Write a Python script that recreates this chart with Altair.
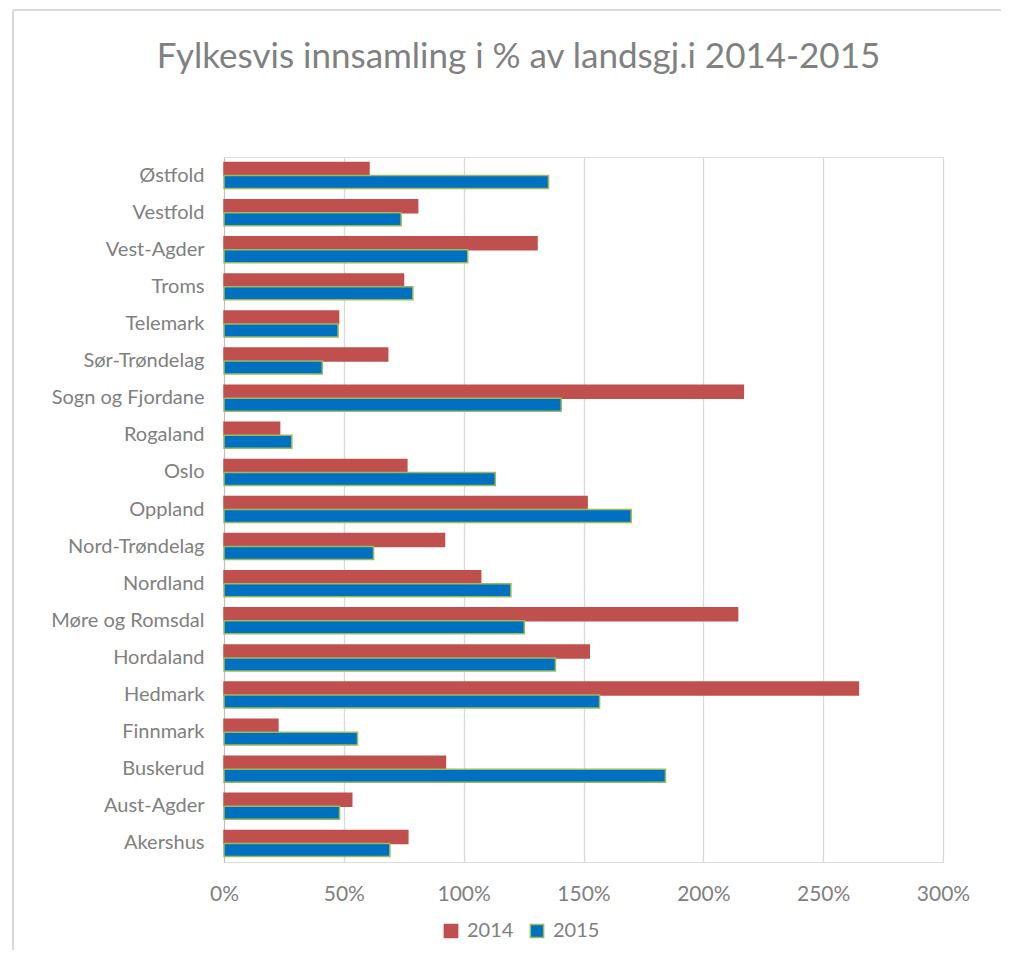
import altair as alt
import pandas as pd

counties = ["Østfold", "Vestfold", "Vest-Agder", "Troms", "Telemark", "Sør-Trøndelag",
            "Sogn og Fjordane", "Rogaland", "Oslo", "Oppland", "Nord-Trøndelag", "Nordland",
            "Møre og Romsdal", "Hordaland", "Hedmark", "Finnmark", "Buskerud", "Aust-Agder",
            "Akershus"]
v2014 = [60.5, 80.8, 130.6, 74.9, 47.8, 68.3, 216.7, 23.2, 76.3, 151.5, 92.0, 107.1,
         214.3, 152.4, 264.7, 22.5, 92.4, 53.3, 76.7]
v2015 = [135.4, 73.9, 101.7, 78.8, 47.6, 41.0, 140.7, 28.3, 113.2, 169.9, 62.4, 119.7,
         125.3, 138.3, 156.7, 55.7, 184.2, 48.2, 69.2]
years = ["2014", "2015"]
x_ticks = [0, 50, 100, 150, 200, 250, 300]

rows = []
for c, a, b in zip(counties, v2014, v2015):
    rows.append({"fylke": c, "year": "2014", "value": a})
    rows.append({"fylke": c, "year": "2015", "value": b})
df = pd.DataFrame(rows)

FONT = "Lato"
GRAY = "#808080"

legend_kw = dict(title=None, orient="none", direction="horizontal",
                 legendX=217, legendY=764,
                 symbolType="square", symbolSize=175,
                 labelFontSize=20, labelColor=GRAY, labelFont=FONT,
                 labelOffset=6, columnPadding=13, symbolStrokeWidth=1.5)

bars = alt.Chart(df).mark_bar(strokeWidth=1.5).encode(
    x=alt.X("value:Q",
            scale=alt.Scale(domain=[0, 300], nice=False),
            axis=alt.Axis(values=x_ticks, labelExpr="datum.value + '%'", title=None,
                          grid=True, gridColor="#D9D9D9", gridWidth=1.3,
                          ticks=False, domain=False, labelPadding=21, labelFlush=False,
                          labelFontSize=21, labelColor=GRAY, labelFont=FONT)),
    y=alt.Y("fylke:N", sort=counties,
            scale=alt.Scale(paddingInner=0.3, paddingOuter=0.15),
            axis=alt.Axis(title=None, ticks=False, domain=True, domainColor="#BFBFBF",
                          labelPadding=20, labelFontSize=20, labelColor=GRAY,
                          labelFont=FONT, labelLimit=300)),
    yOffset=alt.YOffset("year:N", sort=years),
    color=alt.Color("year:N", sort=years,
                    scale=alt.Scale(domain=years, range=["#C0504D", "#0070C0"]),
                    legend=alt.Legend(**legend_kw)),
    stroke=alt.Stroke("year:N", sort=years,
                      scale=alt.Scale(domain=years, range=["#C0504D", "#9BBB59"]),
                      legend=alt.Legend(**legend_kw)),
)

border_top = alt.Chart(df).mark_rule(color="#D9D9D9", strokeWidth=1.5).encode(
    x=alt.value(-211), x2=alt.value(800), y=alt.value(-147))
border_left = alt.Chart(df).mark_rule(color="#D9D9D9", strokeWidth=1.5).encode(
    x=alt.value(-211), y=alt.value(-147), y2=alt.value(800))

chart = alt.layer(border_top, border_left, bars).properties(
    width=719, height=705,
    title=alt.Title("Fylkesvis innsamling i % av landsgj.i 2014-2015",
                    font=FONT, fontSize=35, fontWeight="normal", color=GRAY,
                    anchor="middle", frame="bounds", offset=-66),
    autosize=alt.AutoSizeParams(type="none"),
    padding={"left": 216, "top": 149, "right": 58, "bottom": 88},
).configure_view(
    stroke="#C5D4E8", strokeWidth=2
).configure(background="white")

chart.save("out.html", embed_options={"renderer": "svg", "actions": False})
